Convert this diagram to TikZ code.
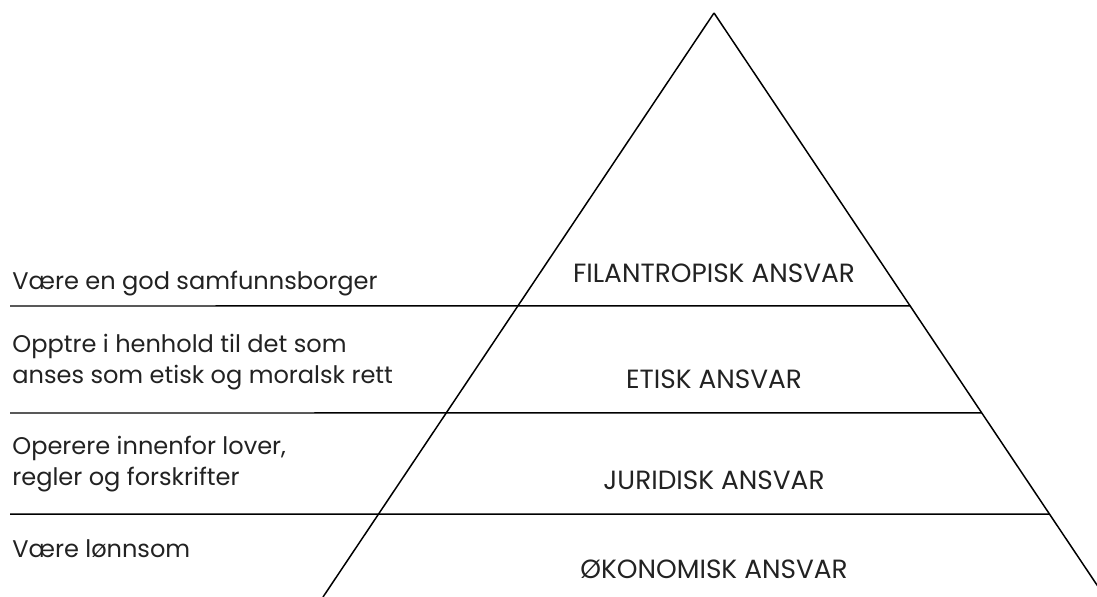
\documentclass[tikz,border=0pt]{standalone}
\usepackage{fontspec}
\setmainfont{Poppins}
\usetikzlibrary{calc}
\definecolor{txt_grey}{RGB}{34, 34, 34}
\tikzstyle{lvl}=[black,line width=0.85pt]
\tikzstyle{lft}=[anchor=base west,inner sep=0pt,align=left,text=txt_grey,
  font=\fontsize{13.7}{17.6}\selectfont]
\tikzstyle{mid}=[anchor=base,inner sep=0pt,text=txt_grey,
  font=\fontsize{15}{18}\selectfont]
\tikzstyle{none}=[]

\begin{document}
\begin{tikzpicture}[x=0.02cm, y=-0.02cm]
            \useasboundingbox (0, 0) rectangle (1097, 597);
            \clip (0, 0) rectangle (1097, 597);
            \coordinate (0) at (714, 13);
            \coordinate (1) at (323, 597);
            \coordinate (2) at (1105, 597);
            \coordinate (3) at (10, 306);
            \coordinate (4) at (10, 413);
            \coordinate (5) at (10, 514);
            \coordinate (6) at ($(0)!0.5017!(2)$);
            \coordinate (7) at ($(0)!0.6849!(2)$);
            \coordinate (8) at ($(0)!0.8579!(2)$);
            % left texts, base is the last line
            \node [style=lft] (10) at (12, 290) {Være en god samfunnsborger};
            \node [style=lft] (11) at (12, 383) {Opptre i henhold til det som\\anses som etisk og moralsk rett};
            \node [style=lft] (12) at (12, 485) {Operere innenfor lover,\\regler og forskrifter};
            \node [style=lft] (13) at (12, 557) {Være lønnsom};
            \node [style=mid] (14) at (714, 283) {FILANTROPISK ANSVAR};
            \node [style=mid] (15) at (714, 388) {ETISK ANSVAR};
            \node [style=mid] (16) at (714, 489) {JURIDISK ANSVAR};
            \node [style=mid] (17) at (714, 578) {ØKONOMISK ANSVAR};
            \draw [style=lvl] (1) to (0);
            \draw [style=lvl] (0) to (2);
            \draw [style=lvl] (3) to (6);
            \draw [style=lvl] (4) to (7);
            \draw [style=lvl] (5) to (8);
    \end{tikzpicture}
\end{document}
